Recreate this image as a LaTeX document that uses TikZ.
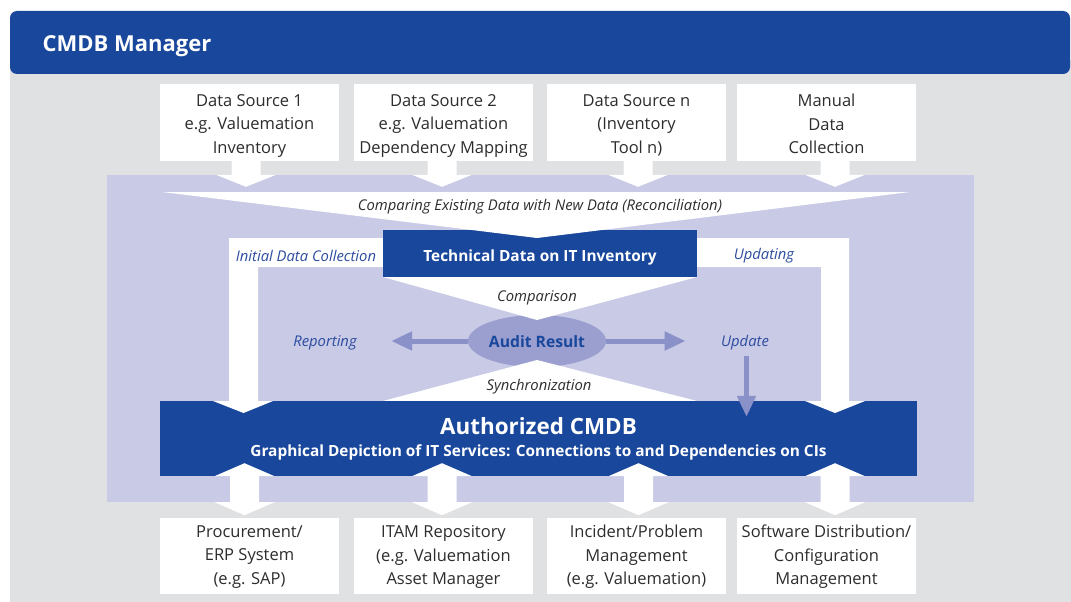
\documentclass[tikz,border=0pt]{standalone}
\usepackage{fontspec}
\setmainfont{Open Sans}
\usetikzlibrary{calc,shapes.geometric,arrows.meta}

\definecolor{cmdbblue}{RGB}{25,71,155}
\definecolor{panelgrey}{RGB}{224,225,227}
\definecolor{lavender}{RGB}{200,202,230}
\definecolor{auditfill}{RGB}{155,159,208}
\definecolor{auditline}{RGB}{138,144,200}
\definecolor{labelblue}{RGB}{44,76,160}
\definecolor{textgrey}{RGB}{45,45,45}

\tikzset{
  srcbox/.style={fill=white,minimum width=179pt,minimum height=76pt,inner sep=0pt},
  boxtext/.style={align=center,inner sep=0pt,text=textgrey,font=\fontsize{16.5}{23.5}\selectfont,
    execute at begin node=\strut,execute at end node=\strut},
  bluebox/.style={fill=cmdbblue,text=white,inner sep=0pt,align=center},
  note/.style={text=textgrey,font=\fontsize{14.8}{17}\selectfont\itshape},
  flowlabel/.style={text=labelblue,font=\fontsize{14.8}{17}\selectfont\itshape},
  auditarrow/.style={draw=auditline,line width=5pt,-{Triangle[length=21pt,width=18pt]}},
}

% white block arrow from a box down into the top edge of another node
\newcommand\feed[3]{%
  \path ([xshift=#3pt]#1.south) coordinate (fs) (fs |- #2.north) coordinate (fe);
  \fill[white] ($(fs)+(-14.5,0)$) -- ($(fe)+(-14.5,0)$) -- ($(fe)+(-30,0)$)
    -- ($(fe)+(0,12)$) -- ($(fe)+(30,0)$) -- ($(fe)+(14.5,0)$) -- ($(fs)+(14.5,0)$) -- cycle;}
% white double arrow between the authorized CMDB and a box below it
\newcommand\serve[2]{%
  \path ([xshift=#2pt]#1.north) coordinate (sb) (sb |- auth.south) coordinate (su)
    (sb |- core.south) coordinate (sd);
  \fill[white] ($(sd)+(-14.5,0)$) -- ($(su)+(-14.5,0)$) -- ($(su)+(-30,0)$) -- ($(su)+(0,-13)$)
    -- ($(su)+(30,0)$) -- ($(su)+(14.5,0)$) -- ($(sd)+(14.5,0)$) -- ($(sd)+(30,0)$)
    -- ($(sd)+(0,13)$) -- ($(sd)+(-30,0)$) -- cycle;}

\begin{document}
\begin{tikzpicture}[x=1pt,y=-1pt]
  \useasboundingbox[fill=white] (0,0) rectangle (1071,602);
  % panel and title bar
  \fill[panelgrey] (10,60) rectangle (1071,602);
  \fill[cmdbblue,rounded corners=7pt] (10,11) rectangle (1070,74);
  \node[anchor=west,text=white,font=\fontsize{22}{25}\selectfont\bfseries] (title) at (39,46) {CMDB Manager};

  % sources
  \node[srcbox] (src1) at (249.5,122.5) {};
  \node[srcbox] (src2) at (443.5,122.5) {};
  \node[srcbox] (src3) at (636.5,122.5) {};
  \node[srcbox] (src4) at (826.5,122.5) {};
  \node[boxtext] at ([yshift=-5pt]src1.center) {Data Source 1\\e.g. Valuemation\\Inventory};
  \node[boxtext] at ([yshift=-5pt]src2.center) {Data Source 2\\e.g. Valuemation\\Dependency Mapping};
  \node[boxtext] at ([yshift=-5pt]src3.center) {Data Source n\\(Inventory\\Tool n)};
  \node[boxtext] at ([yshift=-5pt]src4.center) {Manual\\Data\\Collection};

  % consumers
  \node[srcbox] (dst1) at (249.5,556) {};
  \node[srcbox] (dst2) at (443.5,556) {};
  \node[srcbox] (dst3) at (636.5,556) {};
  \node[srcbox] (dst4) at (826.5,556) {};
  \node[boxtext] at ([yshift=-2.5pt]dst1.center) {Procurement/\\ERP System\\(e.g. SAP)};
  \node[boxtext] at ([yshift=-2.5pt]dst2.center) {ITAM Repository\\(e.g. Valuemation\\Asset Manager};
  \node[boxtext] at ([yshift=-2.5pt]dst3.center) {Incident/Problem\\Management\\(e.g. Valuemation)};
  \node[boxtext] at ([yshift=-2.5pt]dst4.center) {Software Distribution/\\Configuration\\Management};

  \node[fill=lavender,minimum width=867pt,minimum height=327pt,inner sep=0pt] (core) at (540.5,338.5) {};

  % audit in the middle
  \node[ellipse,fill=auditfill,minimum width=138pt,minimum height=52pt,inner sep=0pt,
    text height=12pt,text depth=0pt,
    text=cmdbblue,font=\fontsize{15.7}{18}\selectfont\bfseries] (audit) at (537,341) {Audit Result};
  \fill[white] (383,277) -- (697,277) -- (537,320) -- cycle;
  \fill[white] (383,401) -- (697,401) -- (537,360) -- cycle;

  \node[bluebox,minimum width=314pt,minimum height=47pt,text height=15pt,text depth=0pt,
    font=\fontsize{15.4}{18}\selectfont\bfseries] (tech) at (540,253.5) {Technical Data on IT Inventory};
  \node[bluebox,minimum width=757pt,minimum height=75pt,font=\fontsize{15.4}{25}\selectfont\bfseries]
    (auth) at (538.5,438.5)
    {{\fontsize{22.4}{25}\selectfont Authorized CMDB}\\[-3pt]
     Graphical Depiction of IT Services: Connections to and Dependencies on CIs};

  % reconciliation funnel
  \fill[white] (162,192) -- (910,192) -- (537,238) -- cycle;
  % initial data collection / updating
  \fill[white] (tech.west |- 0,238) -- (229,238) -- (229,401) -- (213,401) -- (243.5,413)
    -- (273,401) -- (258,401) -- (258,267) -- (tech.west |- 0,267) -- cycle;
  \fill[white] (tech.east |- 0,238) -- (849,238) -- (849,401) -- (865,401) -- (835,413)
    -- (805,401) -- (821,401) -- (821,267) -- (tech.east |- 0,267) -- cycle;

  \feed{src1}{core}{-3.5}
  \feed{src2}{core}{-1.5}
  \feed{src3}{core}{1.5}
  \feed{src4}{core}{8.5}
  \serve{dst1}{-5}
  \serve{dst2}{-1.5}
  \serve{dst3}{2}
  \serve{dst4}{8.5}

  % labels
  \node[note] (recon) at (540,207) {Comparing Existing Data with New Data (Reconciliation)};
  \node[note] (comp) at (537,298) {Comparison};
  \node[note] (sync) at (539,387) {Synchronization};
  \node[flowlabel] (init) at (306,256) {Initial Data Collection};
  \node[flowlabel] (upd) at (764,256) {Updating};
  \node[flowlabel] (report) at (325,343) {Reporting};
  \node[flowlabel] (update) at (745,343) {Update};

  \draw[auditarrow] (audit.west) -- ($(audit.west -| report.east)+(31,0)$);
  \draw[auditarrow] (audit.east) -- ($(audit.east -| update.west)+(-32,0)$);
  \draw[auditarrow] ([xshift=1.5pt,yshift=-2pt]update.south) -- ($(update.south |- auth.north)+(1.5,16)$);
\end{tikzpicture}
\end{document}
